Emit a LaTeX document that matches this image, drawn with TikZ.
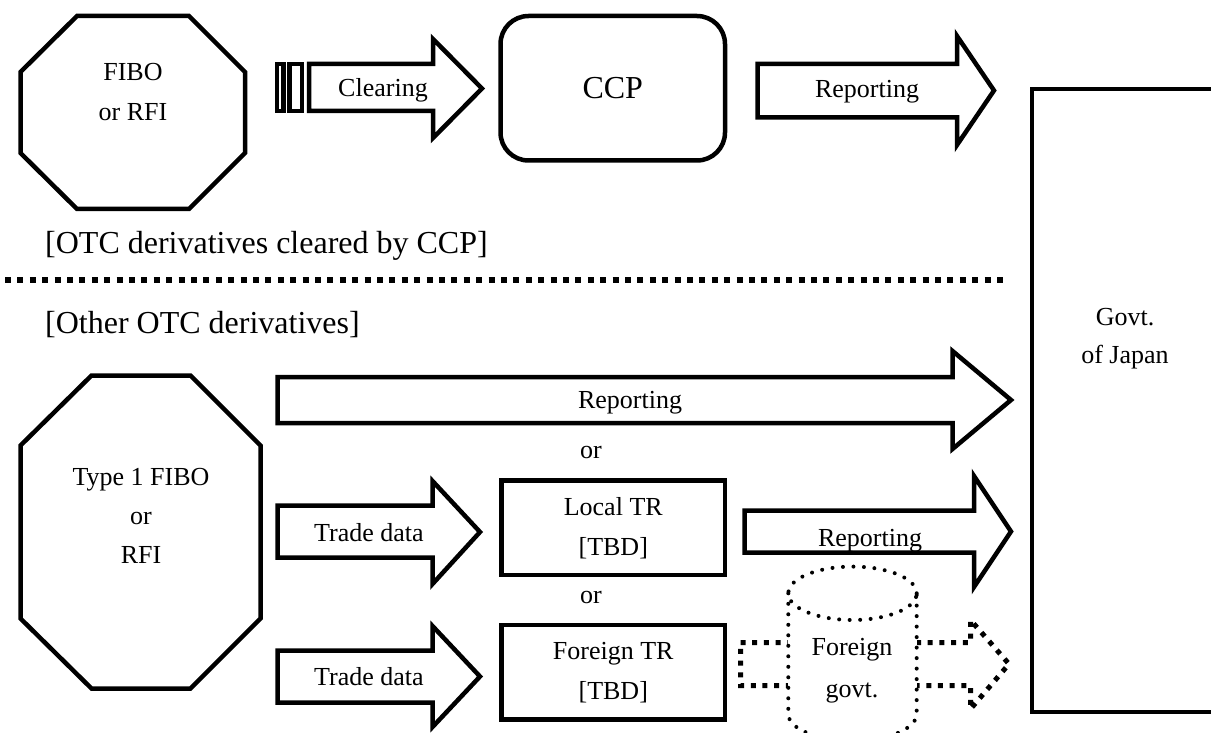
\documentclass[tikz,border=0pt]{standalone}
\usepackage{fontspec}
\setmainfont{Liberation Serif}
\begin{document}
\begin{tikzpicture}[x=1pt,y=-1pt,
  blk/.style={draw=black, line width=4.5pt, line join=miter, fill=white},
  lbl/.style={font=\fontsize{26}{40}\selectfont, align=center, inner sep=0pt},
  big/.style={font=\fontsize{32}{40}\selectfont, inner sep=0pt},
  dotrnd/.style={draw=black, line width=4pt, dash pattern=on 0pt off 10.5pt, line cap=round},
  dotsq/.style={draw=black, line width=5pt, dash pattern=on 5pt off 6.7pt},
  sepline/.style={draw=black, line width=6pt, dash pattern=on 6pt off 6.4pt},
  boxnode/.style={draw=black, line width=4.5pt, fill=white, inner sep=0pt}]
\useasboundingbox (0,0) rectangle (1211,733);
\fill[white] (0,0) rectangle (1211,733);

% ---------- top section ----------
% octagon FIBO
\draw[blk] (77,16) -- (189,16) -- (245,72) -- (245,153) -- (189,209) -- (77,209) -- (20.5,153) -- (20.5,72) -- cycle;
\node[lbl] (fibo) at (133,92) {FIBO\\or RFI};

% striped clearing arrow
\draw[blk] (277,64) rectangle (283.5,111);
\draw[blk] (289.5,64) rectangle (302,111);
\draw[blk] (309,64) -- (433,64) -- (433,39) -- (482,88.5) -- (433,138) -- (433,111) -- (309,111) -- cycle;
\node[lbl] (clearing) at (383,90) {Clearing};

% CCP
\node[boxnode, rounded corners=28pt, minimum width=224.5pt, minimum height=144.5pt,
      font=\fontsize{32}{40}\selectfont] (ccp) at (612.75,88.25) {CCP};

% reporting arrow (top)
\draw[blk] (757.5,64) -- (957,64) -- (957,36) -- (994,90.5) -- (957,145) -- (957,117.5) -- (757.5,117.5) -- cycle;
\node[lbl] (rep1) at (867,92) {Reporting};

% Govt of Japan box
\draw[draw=black, line width=4pt] (1235,88.7) -- (1031.7,88.7) -- (1031.7,712) -- (1235,712);
\node[lbl, font=\fontsize{26}{38}\selectfont] (govt) at (1125,339) {Govt.\\of Japan};

% section labels and separator
\node[big, anchor=base west] (sec1) at (45,253) {[OTC derivatives cleared by CCP]};
\coordinate (sepL) at (5,280);
\coordinate (sepR) at (1007,280);
\draw[sepline] (sepL) -- (sepR);
\node[big, anchor=base west] (sec2) at (45,333) {[Other OTC derivatives]};

% ---------- bottom section ----------
\draw[blk] (91.5,375.5) -- (190.5,375.5) -- (260.5,445.5) -- (260.5,618.5) -- (190.5,688.5) -- (91.5,688.5) -- (20.5,618.5) -- (20.5,445.5) -- cycle;
\node[lbl, font=\fontsize{26}{39}\selectfont] (type1) at (141,516) {Type 1 FIBO\\or\\RFI};

% long reporting arrow
\draw[blk] (277.5,377) -- (952.5,377) -- (952.5,351) -- (1011,400) -- (952.5,449) -- (952.5,423) -- (277.5,423) -- cycle;
\node[lbl] (rep2) at (630,403) {Reporting};
\node[lbl] (or1) at (591,452) {or};

% trade data arrows
\draw[blk] (277.5,505.5) -- (432.5,505.5) -- (432.5,481) -- (480,532) -- (432.5,584) -- (432.5,557.5) -- (277.5,557.5) -- cycle;
\node[lbl] (trade1) at (369,533) {Trade data};
\draw[blk] (277.5,650.5) -- (432.5,650.5) -- (432.5,626) -- (480,676.5) -- (432.5,727) -- (432.5,702.5) -- (277.5,702.5) -- cycle;
\node[lbl] (trade2) at (369,677) {Trade data};

% TR boxes
\node[boxnode, minimum width=223.5pt, minimum height=94.5pt, lbl] (localtr) at (613.25,527.75) {Local TR\\{}[TBD]};
\node[lbl] (or2) at (591,597) {or};
\node[boxnode, minimum width=223.5pt, minimum height=94.5pt, lbl] (foreigntr) at (613.25,672.25) {Foreign TR\\{}[TBD]};

% local reporting arrow
\draw[blk] (744.5,510.5) -- (974,510.5) -- (974,476) -- (1011,531.5) -- (974,587) -- (974,552.5) -- (744.5,552.5) -- cycle;
\node[lbl] (rep3) at (870,541) {Reporting};

% dotted arrow through foreign govt
\draw[dotsq] (740.5,642.5) -- (970.5,642.5) -- (970.5,620) -- (1009,664) -- (970.5,709) -- (970.5,685.5) -- (740.5,685.5) -- cycle;

% foreign govt cylinder
\fill[white] (788.3,593.3) rectangle (916.7,714);
\fill[white] (852.5,714) ellipse [x radius=64.2pt, y radius=26.7pt];
\fill[white] (852.5,593.3) ellipse [x radius=64.2pt, y radius=26.7pt];
\draw[dotrnd] (852.5,593.3) ellipse [x radius=64.2pt, y radius=26.7pt];
\draw[dotrnd] (788.3,593.3) -- (788.3,714) arc [start angle=180, end angle=360, x radius=64.2pt, y radius=26.7pt] -- (916.7,593.3);
\node[lbl, font=\fontsize{26}{42}\selectfont] (fgovt) at (852,671) {Foreign\\govt.};
\end{tikzpicture}
\end{document}
